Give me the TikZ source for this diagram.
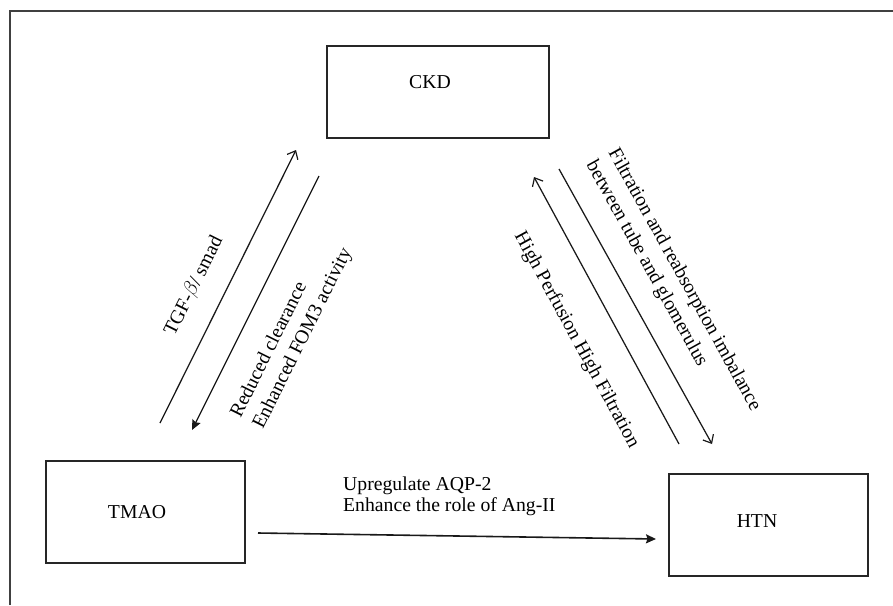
\documentclass[tikz,border=0pt]{standalone}
\usepackage{fontspec}
\setmainfont{Liberation Serif}
\usetikzlibrary{arrows.meta}
\begin{document}
\begin{tikzpicture}[x=1pt,y=-1pt,
  box/.style={draw=black!85, line width=1.4pt, inner sep=0pt},
  lbl/.style={font=\fontsize{19.7}{25}\selectfont, inner sep=0pt},
  hlbl/.style={font=\fontsize{19.7}{21}\selectfont, inner sep=0pt},
  conn/.style={line width=1.25pt, draw=black!90},
  openhead/.style={-{Straight Barb[length=7pt,width=12pt,line width=1.2pt]}},
  fillhead/.style={-{Stealth[length=10pt,width=9pt,inset=1.5pt]}}]
\useasboundingbox (0,0) rectangle (893,605);
\draw[line width=1.3pt, black!75] (10,605) -- (10,11) -- (893,11);

\node[box, minimum width=222pt, minimum height=92pt,
  label={[lbl, xshift=-8pt, yshift=10pt]center:CKD}] (ckd) at (438,92) {};
\node[box, minimum width=199pt, minimum height=102pt,
  label={[lbl, xshift=-8.5pt]center:TMAO}] (tmao) at (145.5,512) {};
\node[box, minimum width=199pt, minimum height=102pt,
  label={[lbl, xshift=-11.5pt, yshift=4pt]center:HTN}] (htn) at (768.5,525) {};

\coordinate (tgfS) at (160,423); \coordinate (tgfE) at (296,150);
\coordinate (redS) at (319,176); \coordinate (redE) at (192,430);
\coordinate (hpS) at (679,444);  \coordinate (hpE) at (534,177);
\coordinate (fiS) at (559,169);  \coordinate (fiE) at (712,444);
\coordinate (upS) at (258,533);  \coordinate (upE) at (656,539);

\draw[conn, openhead] (tgfS) -- (tgfE);
\draw[conn, fillhead] (redS) -- (redE);
\draw[conn, openhead] (hpS) -- (hpE);
\draw[conn, openhead] (fiS) -- (fiE);
\draw[conn, fillhead, line width=1.6pt] (upS) -- (upE);

\node[lbl, rotate=63.5] (tgfL) at (194,286) {TGF-$\beta$/ smad};
\node[lbl, rotate=63.5, align=left] (redL) at (292,333) {Reduced clearance\\Enhanced FOM3 activity};
\node[lbl, rotate=-61, align=left] (fiL) at (673,286) {Filtration and reabsorption imbalance\\between tube and glomerulus};
\node[lbl, rotate=-61.5] (hpL) at (576.5,340) {High Perfusion High Filtration};
\node[hlbl, anchor=west, align=left] (upL) at (343,496) {Upregulate AQP-2\\Enhance the role of Ang-II};
\end{tikzpicture}
\end{document}
